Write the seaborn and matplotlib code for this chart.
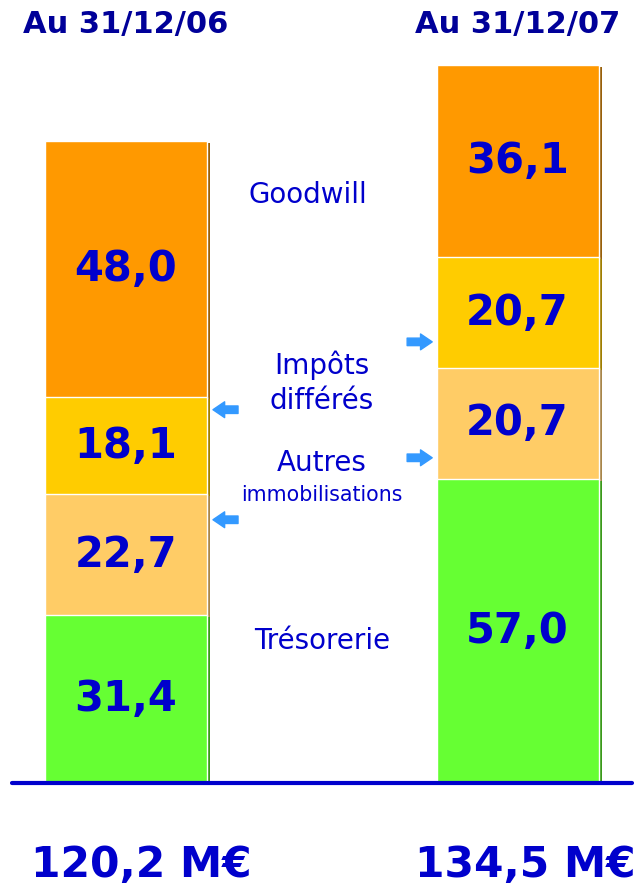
import numpy as np
import pandas as pd
import seaborn as sns
import matplotlib
matplotlib.use("Agg")
import matplotlib.pyplot as plt
import matplotlib.patheffects as pe

# ---- data (M€) ----
periods = ["Au 31/12/06", "Au 31/12/07"]
tresorerie = [31.4, 57.0]
autres = [22.7, 20.7]
impots = [18.1, 20.7]
goodwill = [48.0, 36.1]
totals = ["120,2 M€", "134,5 M€"]

segments = [tresorerie, autres, impots, goodwill]          # bottom -> top
seg_colors = ["#66FF33", "#FFCC66", "#FFCC00", "#FF9900"]
shadow_colors = ["#3A9A1A", "#A8864A", "#A07E00", "#99600A"]

df = pd.DataFrame({"period": periods})
cum = np.cumsum(np.array(segments), axis=0)

sns.set_theme(style="white")
plt.rcParams['font.family'] = ['DejaVu Sans']

fig = plt.figure(figsize=(6.44, 8.91), dpi=100)
ax = fig.add_axes([0, 0, 1, 1])

bw = 0.414
# draw cumulative bars from the top down so each one covers the ones below
for i in range(len(segments) - 1, -1, -1):
    df["v"] = cum[i]
    n_before = len(ax.patches)
    sns.barplot(data=df, x="period", y="v", color=seg_colors[i], saturation=1,
                width=bw, edgecolor="white", linewidth=1.0, ax=ax)
    for p in ax.patches[n_before:]:
        p.set_path_effects([pe.SimplePatchShadow(offset=(2.4, -1.4),
                                                 shadow_rgbFace=shadow_colors[i], alpha=1),
                            pe.Normal()])

ax.set_xlim(-0.322, 1.323)
ax.set_ylim(-20.2, 146.6)
ax.axis("off")

# baseline
ax.axhline(0, xmin=0.019, xmax=0.981, color="#0000CC", lw=3, zorder=5)

# values inside segments
for j in range(len(periods)):
    bottom = 0
    for i, seg in enumerate(segments):
        mid = bottom + seg[j] / 2
        ax.text(j, mid, f"{seg[j]:.1f}".replace(".", ","), ha="center", va="center",
                fontsize=30, fontweight="bold", color="#0000CC", zorder=6)
        bottom += seg[j]

# column titles
for j, t in enumerate(periods):
    ax.text(j, 142.0, t, ha="center", va="center", fontsize=22,
            fontweight="bold", color="#000099")

# totals
for j, t in enumerate(totals):
    ax.text(j + 0.04 - 0.02 * j, -15.4, t, ha="center", va="center", fontsize=30.5,
            fontweight="bold", color="#0000CC")

# middle labels
lab_col = "#0000CC"
ax.text(0.465, 110.1, "Goodwill", ha="center", va="center", fontsize=20, color=lab_col)
ax.text(0.5, 78.3, "Impôts", ha="center", va="center", fontsize=20, color=lab_col)
ax.text(0.5, 71.5, "différés", ha="center", va="center", fontsize=20, color=lab_col)
ax.text(0.5, 59.9, "Autres", ha="center", va="center", fontsize=20, color=lab_col)
ax.text(0.5, 53.9, "immobilisations", ha="center", va="center", fontsize=14.8, color=lab_col)
ax.text(0.5, 26.6, "Trésorerie", ha="center", va="center", fontsize=20, color=lab_col)

# arrows
arr = dict(arrowstyle="simple,head_length=0.7,head_width=0.95,tail_width=0.45",
           color="#3399FF", shrinkA=0, shrinkB=0)
for y in [69.9, 49.3]:
    ax.annotate("", xy=(0.222, y), xytext=(0.286, y), arrowprops=arr)
for y in [82.6, 60.9]:
    ax.annotate("", xy=(0.782, y), xytext=(0.718, y), arrowprops=arr)

fig.savefig("out.png", dpi=100, facecolor="white")
